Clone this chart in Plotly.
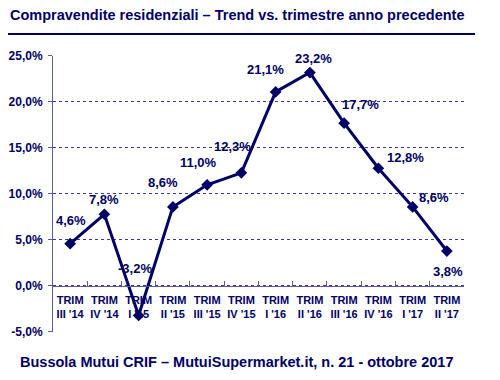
import plotly.graph_objects as go

# ---- data ----
quarters = ["III '14", "IV '14", "I '15", "II '15", "III '15", "IV '15",
            "I '16", "II '16", "III '16", "IV '16", "I '17", "II '17"]
values = [4.6, 7.8, -3.2, 8.6, 11.0, 12.3, 21.1, 23.2, 17.7, 12.8, 8.6, 3.8]
y_ticks = [-5, 0, 5, 10, 15, 20, 25]

title_text = "Compravendite residenziali \u2013 Trend vs. trimestre anno precedente"
footer_text = "Bussola Mutui CRIF \u2013 MutuiSupermarket.it, n. 21 - ottobre 2017"

# ---- style ----
NAVY = "#000066"
AXIS = "#5a5aa8"
GRID = "#3a3a99"
FONT = "Liberation Sans, Arial, sans-serif"
# manual label offsets (pixels) as placed in the original
label_dx = [1, 0, -4, -10, -9, -9, -10, 4, 16, 27, 21, 1]
label_dy = [23, 15, 47, 24, 22, 26, 22, 14, 19, 11, 9, -20]

cat_labels = ["TRIM<br>" + q for q in quarters]
y_text = [f"{t:.1f}".replace(".", ",") + "%" for t in y_ticks]

fig = go.Figure()
fig.add_trace(go.Scatter(
    x=cat_labels, y=values, mode="lines+markers",
    line=dict(color=NAVY, width=3),
    marker=dict(symbol="diamond", size=9, color=NAVY),
    hoverinfo="skip", showlegend=False,
))

for q, v, dx, dy in zip(cat_labels, values, label_dx, label_dy):
    fig.add_annotation(
        x=q, y=v, xref="x", yref="y",
        text="<b>" + f"{v:.1f}".replace(".", ",") + "%</b>",
        showarrow=False, xshift=dx, yshift=dy,
        font=dict(family=FONT, size=13, color=NAVY),
    )

# page body has an 8px default margin, so the figure is 8px smaller;
# zero margins so that paper coordinates cover the whole figure
fig.update_layout(
    width=492, height=372,
    margin=dict(l=0, r=0, t=0, b=0),
    paper_bgcolor="white", plot_bgcolor="white",
    font=dict(family=FONT, color=NAVY),
    xaxis=dict(
        type="category", range=[-0.5, 11.5],
        domain=[0.09146, 0.92683],
        anchor="free", position=0.25269,
        showline=True, linecolor=AXIS, linewidth=1,
        ticks="inside", ticklen=5, tickcolor=AXIS, tickson="boundaries",
        tickangle=0, automargin=False, ticklabelstandoff=4,
        showgrid=False,
        tickfont=dict(family=FONT, size=11, color=NAVY, weight="bold"),
    ),
    yaxis=dict(
        range=[-5, 25], tickvals=y_ticks, ticktext=y_text,
        domain=[0.12903, 0.87097],
        showline=True, linecolor=AXIS, linewidth=1,
        ticks="outside", ticklen=4, tickcolor=AXIS,
        showgrid=True, gridcolor=GRID, griddash="3px,3px", gridwidth=1,
        zeroline=False, automargin=False, ticklabelstandoff=3,
        tickfont=dict(family=FONT, size=12, color=NAVY, weight="bold"),
    ),
)

fig.add_annotation(
    xref="paper", yref="paper", x=0.4654, y=0.98118,
    xanchor="center", yanchor="middle",
    text="<b>" + title_text + "</b>", showarrow=False,
    font=dict(family=FONT, size=14.5, color=NAVY),
)
fig.add_annotation(
    xref="paper", yref="paper", x=0.4644, y=0.04839,
    xanchor="center", yanchor="middle",
    text="<b>" + footer_text + "</b>", showarrow=False,
    font=dict(family=FONT, size=14.5, color=NAVY),
)
# separator rule under the title
fig.add_shape(
    type="line", xref="paper", yref="paper", layer="above",
    x0=0.0, x1=0.9492, y0=0.93011, y1=0.93011,
    line=dict(color=NAVY, width=2),
)

fig.write_html("out.html", config={"displayModeBar": False})
